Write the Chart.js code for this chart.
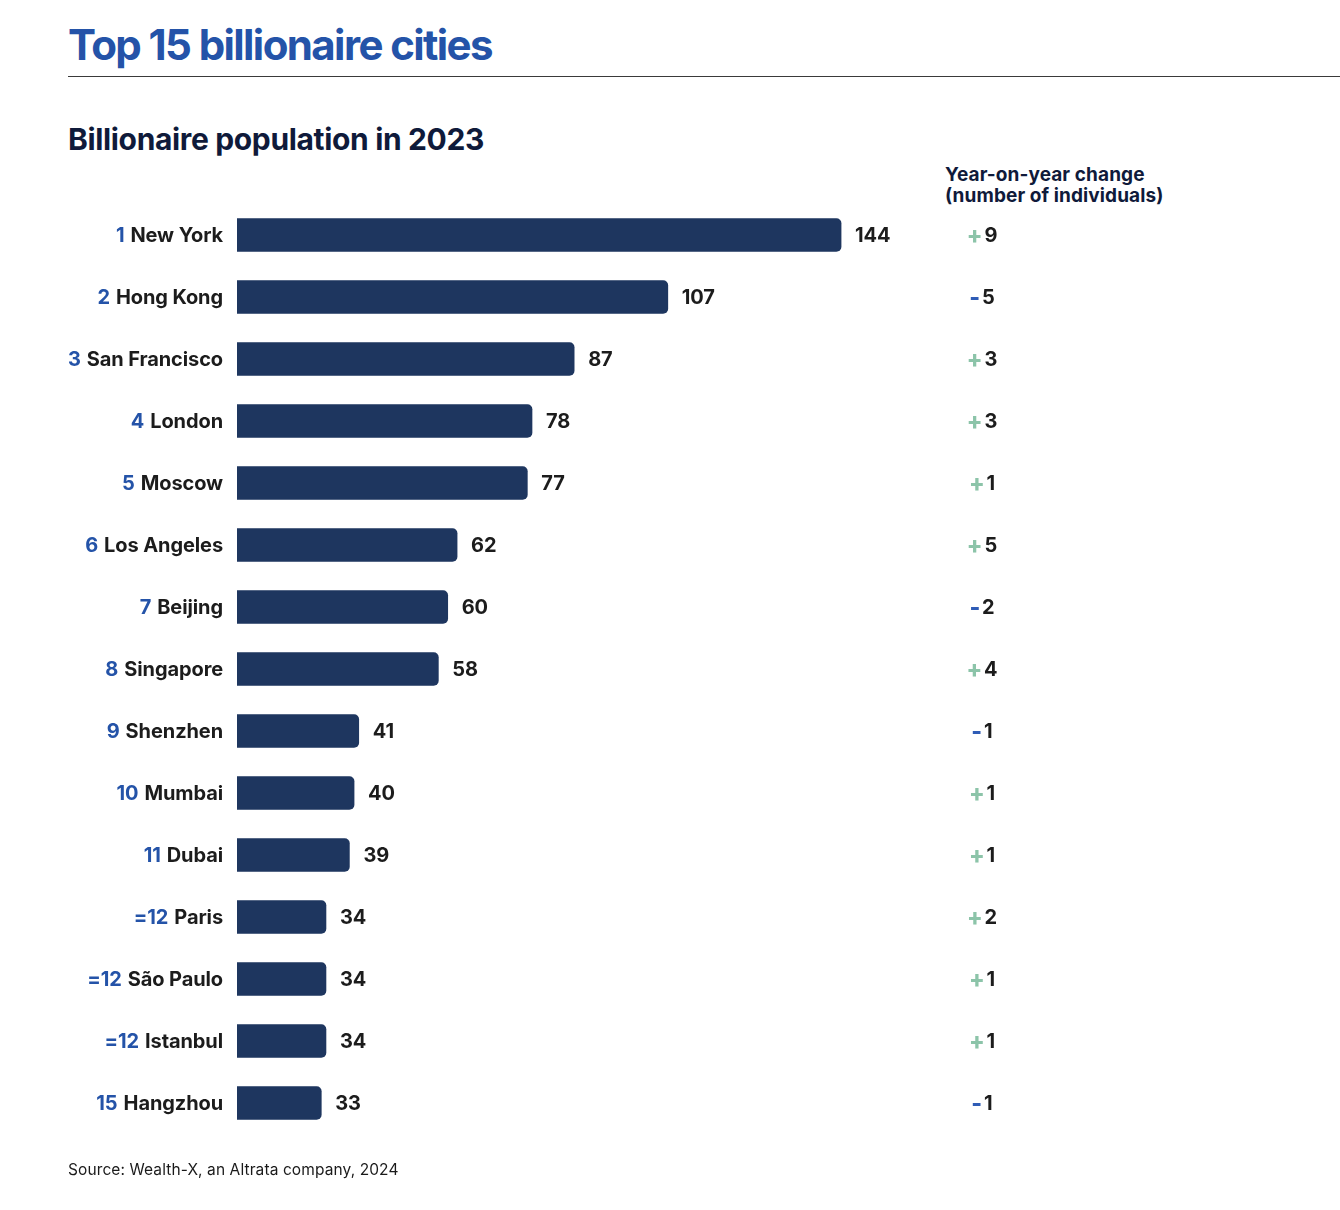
<!DOCTYPE html>
<html>
<head>
<meta charset="utf-8">
<script src="https://cdn.jsdelivr.net/npm/chart.js@4.4.1/dist/chart.umd.min.js"></script>
<style>
    html, body { margin: 0; padding: 0; background: #ffffff; }
    body { width: 1340px; height: 1210px; position: relative; overflow: hidden; font-family: Inter, "Noto Sans", sans-serif; }
    .abs { position: absolute; white-space: nowrap; }
    #title { left: 68px; top: 24px; font-size: 42px; line-height: 42px; font-weight: 700; color: #2453a8; letter-spacing: -1.6px; }
    #rule { left: 68px; top: 76px; width: 1272px; height: 0; border-top: 1.5px solid #3a3a3a; }
    #subtitle { left: 68px; top: 124px; font-size: 30px; line-height: 30px; font-weight: 700; color: #0f1a3a; letter-spacing: -0.35px; }
    #yoyHead { left: 945px; top: 164px; font-size: 19px; line-height: 21px; font-weight: 700; color: #0f1a3a; letter-spacing: 0.1px; }
    #source { left: 68px; top: 1162px; font-size: 15.5px; line-height: 15px; font-weight: 400; color: #1a1a1a; letter-spacing: 0.1px; }
    #chart { position: absolute; left: 0; top: 0; }
</style>
</head>
<body>
<div id="title" class="abs">Top 15 billionaire cities</div>
<div id="rule" class="abs"></div>
<div id="subtitle" class="abs">Billionaire population in 2023</div>
<div id="yoyHead" class="abs">Year-on-year change<br>(number of individuals)</div>
<canvas id="chart" width="1340" height="1210"></canvas>
<div id="source" class="abs">Source: Wealth-X, an Altrata company, 2024</div>
<script>
const ranks = ['1', '2', '3', '4', '5', '6', '7', '8', '9', '10', '11', '=12', '=12', '=12', '15'];
const cities = ['New York', 'Hong Kong', 'San Francisco', 'London', 'Moscow', 'Los Angeles', 'Beijing',
    'Singapore', 'Shenzhen', 'Mumbai', 'Dubai', 'Paris', 'São Paulo', 'Istanbul', 'Hangzhou'];
const population = [144, 107, 87, 78, 77, 62, 60, 58, 41, 40, 39, 34, 34, 34, 33];
const yoyChange = [9, -5, 3, 3, 1, 5, -2, 4, -1, 1, 1, 2, 1, 1, -1];

const barColor = '#1e365f';
const rankColor = '#2453a8';
const textColor = '#1c1c1c';
const plusColor = '#8cc4a9';
const minusColor = '#2f5cb6';

// draws city labels, bar values and the year-on-year column
const labelPlugin = {
    id: 'rowLabels',
    afterDatasetsDraw(chart) {
        const ctx = chart.ctx;
        const meta = chart.getDatasetMeta(0);
        ctx.save();
        ctx.textBaseline = 'middle';
        meta.data.forEach((bar, i) => {
            const y = bar.y + 1;
            ctx.font = '700 20px Inter, "Noto Sans", sans-serif';
            ctx.letterSpacing = '-0.1px';

            // rank + city, right aligned
            ctx.textAlign = 'right';
            ctx.fillStyle = textColor;
            ctx.fillText(cities[i], 223, y);
            const cityW = ctx.measureText(cities[i]).width;
            ctx.fillStyle = rankColor;
            ctx.fillText(ranks[i], 223 - cityW - 6, y);

            // value at end of bar
            ctx.textAlign = 'left';
            ctx.fillStyle = textColor;
            ctx.fillText(String(population[i]), bar.x + 14, y);

            // year-on-year change
            const v = yoyChange[i];
            const num = String(Math.abs(v));
            const numW = ctx.measureText(num).width;
            ctx.font = '800 23px Inter, "Noto Sans", sans-serif';
            const sign = v >= 0 ? '+' : '-';
            const signW = ctx.measureText(sign).width;
            const gap = 2;
            const startX = 982 - (signW + gap + numW) / 2;
            ctx.fillStyle = v >= 0 ? plusColor : minusColor;
            ctx.fillText(sign, startX, y);
            ctx.font = '700 20px Inter, "Noto Sans", sans-serif';
            ctx.fillStyle = textColor;
            ctx.fillText(num, startX + signW + gap, y);
        });
        ctx.restore();
    }
};

const chartCtx = document.getElementById('chart').getContext('2d');
new Chart(chartCtx, {
    type: 'bar',
    data: {
        labels: cities,
        datasets: [{
            data: population,
            backgroundColor: barColor,
            borderRadius: 5,
            borderSkipped: false,
            barThickness: 33
        }]
    },
    options: {
        indexAxis: 'y',
        responsive: false,
        animation: false,
        layout: { padding: { left: 237, right: 424, top: 204, bottom: 76 } },
        scales: {
            x: { display: false, min: 15, max: 160 },
            y: { display: false }
        },
        plugins: {
            legend: { display: false },
            tooltip: { enabled: false }
        }
    },
    plugins: [labelPlugin]
});
</script>
</body>
</html>
